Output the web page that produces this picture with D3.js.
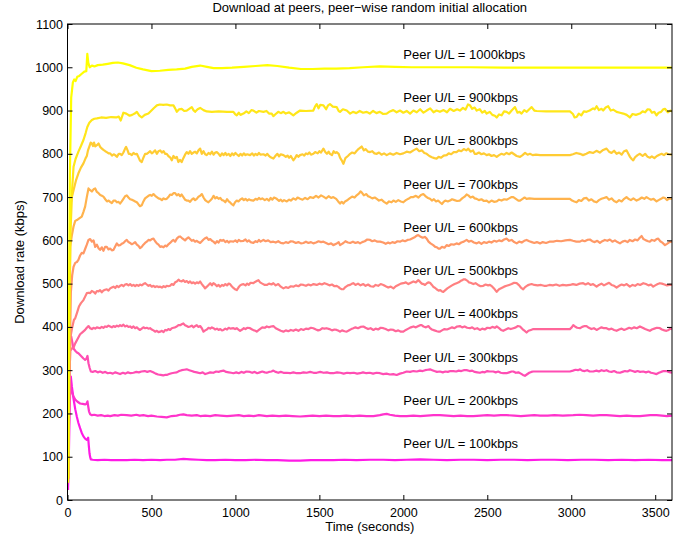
<!DOCTYPE html>
<html>
<head>
<meta charset="utf-8">
<script src="https://cdn.jsdelivr.net/npm/d3@7"></script>
<style>
  body { margin: 0; background: #fff; }
  text { font-family: "Liberation Sans", Arial, sans-serif; fill: #000; }
</style>
</head>
<body>
<div id="chart"></div>
<script>
// upload capacity of each peer class (kbps)
const uploadRates = [100, 200, 300, 400, 500, 600, 700, 800, 900, 1000];
const xTicks = [0, 500, 1000, 1500, 2000, 2500, 3000, 3500];
const yTicks = [0, 100, 200, 300, 400, 500, 600, 700, 800, 900, 1000, 1100];

// [time (s), download rate (kbps)]
const peer100 = [[3,23],[7,80],[11,170],[16,260],[20,285],[26,262],[36,234],[46,210],[56,192],[65,178],[75,166],[85,155],[95,147],[105,142],[115,139],[120,141],[123,144],[127,125],[131,108],[135,99],[139,94],[150,93],[180,92],[220,93],[260,92],[300,92],[353,92],[400,93],[450,92],[500,93],[552,92],[591,93],[640,93],[690,95],[730,94],[780,93],[830,92],[880,92],[940,93],[1000,92],[1060,92],[1120,93],[1187,92],[1250,92],[1320,91],[1385,91],[1450,92],[1520,92],[1583,92],[1650,93],[1720,92],[1800,93],[1880,93],[1950,92],[2020,93],[2100,94],[2180,93],[2260,92],[2340,93],[2420,93],[2500,92],[2580,93],[2660,93],[2740,92],[2820,93],[2900,93],[2980,92],[3060,93],[3140,93],[3220,92],[3300,93],[3380,92],[3460,93],[3540,92],[3600,92]];

const peer200 = [[4,50],[9,230],[14,280],[20,262],[25,250],[35,240],[46,232],[60,227],[75,223],[90,222],[105,221],[112,222],[119,228],[124,215],[128,205],[135,198],[145,196],[160,197],[180,195],[200,196],[220,194],[240,195],[254,194],[280,196],[300,195],[320,197],[353,196],[380,195],[410,197],[430,195],[452,196],[480,194],[500,195],[532,193],[560,192],[591,191],[620,194],[650,195],[670,197],[690,198],[710,196],[740,195],[770,196],[790,194],[820,195],[850,194],[880,196],[910,195],[950,194],[988,195],[1020,196],[1050,194],[1080,195],[1110,194],[1140,196],[1187,194],[1220,195],[1260,194],[1300,195],[1340,194],[1385,193],[1420,194],[1460,195],[1500,194],[1540,195],[1583,194],[1620,194],[1660,195],[1700,194],[1740,195],[1780,194],[1822,194],[1860,196],[1880,198],[1901,199],[1920,197],[1950,195],[1980,194],[2020,194],[2060,195],[2100,194],[2140,195],[2180,196],[2218,196],[2260,195],[2300,194],[2340,195],[2380,194],[2417,194],[2460,195],[2500,196],[2540,195],[2580,196],[2615,196],[2660,195],[2700,194],[2740,195],[2780,196],[2814,195],[2860,195],[2900,196],[2950,195],[3012,196],[3050,197],[3090,196],[3130,195],[3170,196],[3210,196],[3250,195],[3290,194],[3330,195],[3370,194],[3409,194],[3440,195],[3470,196],[3508,196],[3540,195],[3570,194],[3600,195]];

const peer300 = [[4,60],[9,300],[14,370],[22,378],[30,362],[36,350],[46,345],[56,341],[65,339],[75,335],[85,331],[95,327],[105,324],[112,326],[119,333],[125,316],[132,305],[139,297],[150,296],[165,298],[180,295],[194,297],[210,294],[225,296],[240,293],[254,294],[270,292],[285,295],[300,293],[313,291],[330,294],[345,292],[360,295],[375,293],[393,294],[410,296],[425,295],[440,297],[460,298],[475,296],[492,298],[510,295],[525,292],[540,290],[555,289],[570,288],[580,289],[591,289],[605,291],[620,293],[635,294],[651,295],[665,298],[680,300],[695,301],[710,302],[725,300],[740,298],[755,296],[770,295],[790,293],[805,295],[820,291],[835,293],[850,295],[869,294],[885,297],[900,296],[915,298],[929,299],[945,296],[960,295],[975,294],[988,293],[1005,295],[1020,293],[1035,296],[1050,294],[1065,297],[1087,296],[1100,294],[1115,296],[1130,293],[1145,295],[1160,297],[1175,295],[1187,294],[1200,296],[1215,297],[1226,299],[1240,296],[1255,294],[1270,296],[1286,294],[1306,294],[1325,293],[1345,295],[1365,293],[1385,293],[1405,295],[1425,294],[1445,296],[1465,294],[1484,294],[1505,296],[1525,294],[1545,295],[1565,293],[1583,293],[1605,295],[1625,294],[1645,292],[1665,294],[1683,293],[1705,294],[1725,292],[1742,293],[1760,295],[1780,293],[1800,294],[1820,292],[1840,294],[1861,293],[1880,291],[1900,292],[1920,290],[1940,291],[1960,289],[1980,292],[2000,294],[2020,297],[2040,296],[2060,298],[2080,297],[2099,299],[2115,298],[2130,300],[2145,301],[2159,302],[2172,300],[2185,298],[2200,296],[2218,297],[2235,295],[2250,297],[2265,296],[2280,298],[2298,298],[2315,297],[2330,299],[2345,298],[2360,300],[2377,300],[2395,298],[2410,299],[2425,296],[2440,295],[2456,294],[2470,296],[2485,295],[2500,298],[2515,297],[2536,297],[2550,295],[2565,297],[2580,294],[2595,293],[2615,293],[2630,295],[2645,297],[2655,297],[2670,294],[2685,295],[2700,292],[2712,289],[2724,287],[2735,290],[2750,294],[2762,296],[2774,297],[2850,297],[2920,297],[2992,297],[3010,299],[3025,301],[3040,300],[3052,302],[3065,299],[3080,298],[3095,300],[3110,297],[3131,297],[3150,299],[3165,297],[3180,300],[3195,298],[3210,300],[3225,297],[3240,296],[3255,298],[3270,295],[3290,294],[3305,296],[3320,298],[3335,297],[3349,300],[3365,298],[3380,296],[3395,298],[3410,296],[3429,297],[3445,295],[3460,297],[3475,294],[3490,293],[3508,291],[3522,294],[3535,296],[3550,298],[3567,298],[3580,296],[3590,295],[3600,294]];

const peer400 = [[4,40],[10,250],[16,345],[26,350],[36,352],[46,362],[60,372],[75,383],[90,388],[105,393],[115,398],[125,402],[135,397],[145,395],[155,398],[165,396],[175,399],[194,397],[204,400],[214,398],[224,401],[234,400],[244,403],[254,401],[264,399],[274,402],[284,400],[294,403],[304,401],[313,404],[323,402],[333,405],[343,401],[353,403],[363,400],[373,401],[383,398],[393,401],[403,397],[413,399],[423,395],[432,393],[442,396],[452,399],[462,397],[472,398],[482,396],[492,397],[502,394],[512,392],[522,389],[532,391],[542,388],[552,389],[562,391],[572,388],[582,393],[591,392],[601,395],[611,393],[621,397],[631,398],[641,399],[651,401],[661,404],[671,404],[680,406],[690,408],[700,404],[710,402],[720,400],[730,401],[740,403],[750,399],[760,402],[770,404],[780,400],[790,402],[800,397],[810,389],[820,392],[830,394],[840,398],[850,396],[860,399],[869,397],[880,394],[890,396],[900,393],[910,395],[920,392],[929,393],[940,396],[950,394],[960,398],[970,396],[988,397],[998,395],[1008,397],[1018,394],[1028,391],[1040,394],[1050,397],[1060,395],[1070,398],[1087,397],[1100,394],[1110,392],[1120,391],[1127,389],[1140,393],[1150,396],[1160,399],[1175,398],[1187,401],[1200,399],[1212,401],[1226,402],[1240,397],[1255,394],[1270,391],[1286,389],[1300,392],[1315,390],[1330,393],[1345,391],[1360,394],[1375,391],[1390,395],[1405,393],[1420,396],[1435,395],[1450,398],[1464,397],[1480,394],[1492,392],[1504,393],[1518,397],[1530,396],[1543,397],[1560,395],[1575,392],[1590,394],[1603,393],[1615,391],[1623,389],[1635,392],[1650,390],[1663,389],[1680,393],[1695,396],[1702,397],[1715,399],[1730,397],[1745,400],[1762,401],[1775,398],[1790,395],[1805,397],[1822,393],[1835,396],[1850,394],[1865,398],[1881,397],[1895,395],[1910,392],[1925,394],[1941,393],[1955,390],[1970,392],[1985,389],[2000,389],[2015,393],[2030,396],[2045,399],[2060,401],[2075,399],[2090,402],[2100,404],[2109,404],[2120,401],[2135,399],[2150,402],[2159,397],[2170,394],[2185,392],[2200,390],[2210,389],[2218,389],[2230,392],[2245,395],[2260,394],[2278,397],[2290,399],[2305,397],[2320,401],[2337,402],[2350,399],[2365,401],[2380,398],[2397,397],[2410,399],[2425,395],[2440,397],[2456,393],[2470,396],[2485,394],[2500,398],[2516,397],[2530,400],[2545,398],[2556,401],[2570,397],[2582,393],[2595,391],[2610,394],[2625,397],[2640,395],[2655,397],[2670,399],[2682,402],[2695,401],[2705,397],[2715,393],[2725,390],[2734,387],[2745,391],[2760,393],[2774,395],[2850,395],[2920,395],[2992,395],[3003,399],[3012,404],[3022,401],[3035,398],[3052,397],[3065,400],[3080,402],[3091,402],[3105,398],[3120,395],[3135,397],[3151,393],[3165,396],[3180,399],[3195,397],[3210,397],[3225,394],[3240,396],[3255,393],[3270,391],[3285,394],[3300,396],[3315,393],[3329,395],[3345,398],[3360,396],[3375,399],[3390,397],[3409,401],[3425,398],[3440,395],[3455,393],[3468,391],[3480,394],[3495,396],[3510,398],[3528,397],[3540,394],[3555,392],[3567,391],[3580,393],[3590,396],[3600,395]];

const peer500 = [[5,60],[12,280],[18,377],[26,395],[38,416],[46,420],[56,432],[68,447],[80,455],[95,462],[105,470],[115,478],[127,479],[135,478],[145,483],[155,481],[165,477],[175,483],[185,482],[194,485],[204,480],[214,484],[224,486],[234,487],[244,484],[254,489],[264,491],[274,493],[284,490],[294,495],[304,492],[313,495],[323,497],[333,494],[343,498],[353,499],[363,496],[373,499],[383,495],[393,497],[403,494],[413,497],[423,495],[432,498],[442,496],[452,499],[462,501],[472,498],[482,495],[492,497],[502,493],[512,495],[522,492],[532,494],[542,492],[552,493],[562,491],[572,494],[582,492],[591,495],[601,494],[611,495],[621,499],[631,497],[641,503],[651,505],[661,509],[671,506],[680,505],[690,508],[700,504],[710,506],[720,502],[730,505],[740,501],[750,503],[760,500],[770,503],[780,501],[790,505],[800,499],[810,494],[819,489],[830,493],[840,497],[850,501],[860,496],[869,501],[880,498],[890,494],[900,497],[909,493],[920,497],[930,495],[940,499],[950,496],[960,500],[968,499],[978,494],[988,490],[998,487],[1008,485],[1018,491],[1028,496],[1038,498],[1048,499],[1060,496],[1070,500],[1080,497],[1090,502],[1107,501],[1117,504],[1127,506],[1137,508],[1147,503],[1160,500],[1175,497],[1187,497],[1200,500],[1215,498],[1226,501],[1240,496],[1255,499],[1270,493],[1286,489],[1300,492],[1315,490],[1330,494],[1345,493],[1360,496],[1375,494],[1390,498],[1405,497],[1420,495],[1435,498],[1450,496],[1465,499],[1484,497],[1500,500],[1515,498],[1530,501],[1543,499],[1560,496],[1575,498],[1590,494],[1603,495],[1615,492],[1623,489],[1633,487],[1643,487],[1655,492],[1670,496],[1683,497],[1695,500],[1702,501],[1715,497],[1730,500],[1745,496],[1762,499],[1775,495],[1790,498],[1805,494],[1822,493],[1835,497],[1850,495],[1865,499],[1881,497],[1895,494],[1910,491],[1925,493],[1941,489],[1955,494],[1970,497],[1985,500],[2000,501],[2015,503],[2030,499],[2045,502],[2060,505],[2075,503],[2089,508],[2100,504],[2110,500],[2120,499],[2129,497],[2140,501],[2150,503],[2159,502],[2170,497],[2180,492],[2190,490],[2198,487],[2210,484],[2220,485],[2230,482],[2238,481],[2250,485],[2262,489],[2278,493],[2290,496],[2305,499],[2317,501],[2330,503],[2340,506],[2350,508],[2360,510],[2367,510],[2380,507],[2390,503],[2400,502],[2417,499],[2430,501],[2445,497],[2460,494],[2476,495],[2490,498],[2505,496],[2516,497],[2530,493],[2540,489],[2550,484],[2556,481],[2570,487],[2585,490],[2600,493],[2615,495],[2630,497],[2645,499],[2660,502],[2675,501],[2690,496],[2700,491],[2714,487],[2725,492],[2740,496],[2752,498],[2764,499],[2780,497],[2800,496],[2820,497],[2838,495],[2853,495],[2870,497],[2890,496],[2910,498],[2930,495],[2950,497],[2970,496],[2992,497],[3010,499],[3030,497],[3050,500],[3071,501],[3085,498],[3100,501],[3115,497],[3130,499],[3151,493],[3165,497],[3180,500],[3195,496],[3210,499],[3225,502],[3240,497],[3255,495],[3270,491],[3285,495],[3300,498],[3315,496],[3330,499],[3349,493],[3365,497],[3380,495],[3395,499],[3410,497],[3429,501],[3445,499],[3460,496],[3475,498],[3488,493],[3500,496],[3515,499],[3528,501],[3540,500],[3555,498],[3570,496],[3585,497],[3600,497]];

const peer600 = [[5,50],[12,300],[20,480],[28,520],[36,539],[46,548],[56,550],[65,555],[75,565],[85,571],[95,570],[105,580],[115,590],[125,601],[135,603],[145,597],[155,600],[165,585],[175,590],[185,582],[194,578],[204,584],[214,576],[224,585],[234,585],[244,579],[254,581],[264,577],[274,578],[284,586],[294,593],[304,588],[313,589],[323,592],[333,594],[343,598],[353,601],[363,596],[373,594],[383,591],[393,593],[403,596],[413,590],[423,587],[432,582],[442,585],[452,590],[462,594],[472,597],[482,601],[492,600],[502,603],[512,604],[522,598],[532,593],[542,590],[552,585],[562,586],[572,584],[582,588],[591,586],[601,591],[611,594],[621,598],[631,601],[641,597],[651,604],[661,608],[671,609],[680,606],[690,603],[700,600],[710,604],[720,607],[730,603],[740,599],[750,601],[760,597],[770,599],[780,596],[790,594],[800,598],[810,602],[820,605],[829,607],[840,601],[850,603],[860,599],[869,597],[880,593],[890,598],[900,595],[910,601],[920,599],[929,601],[940,596],[950,599],[960,595],[970,598],[988,597],[1000,600],[1010,596],[1020,601],[1030,598],[1048,599],[1060,602],[1070,597],[1080,600],[1090,596],[1107,594],[1120,598],[1130,596],[1140,601],[1150,597],[1167,601],[1180,598],[1195,600],[1210,596],[1226,597],[1240,595],[1255,598],[1270,594],[1286,593],[1300,596],[1315,594],[1330,598],[1345,597],[1360,594],[1375,596],[1390,593],[1405,594],[1420,597],[1435,594],[1450,596],[1464,593],[1480,595],[1495,598],[1510,596],[1524,597],[1540,594],[1555,591],[1570,593],[1583,589],[1600,592],[1615,596],[1623,589],[1635,592],[1643,594],[1655,598],[1670,595],[1683,594],[1700,597],[1715,594],[1730,596],[1742,593],[1755,596],[1770,598],[1785,602],[1802,601],[1815,598],[1830,600],[1845,597],[1862,597],[1880,595],[1895,592],[1910,595],[1921,593],[1935,596],[1950,594],[1965,598],[1980,597],[1995,600],[2010,598],[2025,601],[2040,602],[2055,605],[2070,608],[2080,611],[2089,612],[2100,609],[2115,606],[2128,608],[2139,604],[2150,597],[2162,593],[2178,589],[2190,585],[2200,584],[2210,581],[2218,581],[2230,585],[2245,583],[2258,589],[2270,587],[2285,591],[2300,590],[2317,593],[2330,591],[2345,595],[2360,597],[2377,601],[2390,597],[2405,599],[2420,595],[2437,593],[2450,596],[2465,592],[2480,596],[2496,594],[2510,597],[2525,595],[2540,599],[2556,597],[2570,600],[2585,598],[2600,602],[2615,604],[2630,599],[2645,601],[2660,596],[2675,593],[2690,597],[2705,595],[2720,599],[2734,601],[2750,598],[2765,596],[2780,594],[2795,596],[2814,593],[2830,596],[2850,594],[2870,597],[2893,597],[2915,599],[2940,598],[2965,600],[2992,601],[3010,599],[3030,597],[3052,597],[3065,600],[3080,598],[3095,601],[3111,602],[3125,598],[3140,596],[3155,599],[3171,594],[3185,598],[3200,601],[3215,599],[3230,602],[3245,597],[3260,600],[3275,596],[3290,593],[3305,597],[3320,599],[3335,596],[3349,601],[3365,598],[3380,602],[3395,600],[3408,606],[3419,610],[3430,603],[3445,600],[3458,598],[3468,597],[3480,601],[3495,599],[3508,603],[3518,604],[3530,598],[3545,594],[3558,589],[3570,592],[3585,596],[3600,597]];

const peer700 = [[4,50],[10,350],[16,585],[26,612],[36,632],[46,645],[56,647],[70,651],[85,655],[95,666],[105,678],[115,700],[125,720],[135,716],[145,713],[155,718],[165,720],[175,712],[185,709],[195,705],[205,703],[214,701],[225,695],[235,690],[245,692],[254,689],[264,686],[274,692],[284,692],[294,688],[304,689],[313,685],[323,690],[333,696],[343,702],[353,704],[363,699],[373,695],[383,694],[393,692],[403,690],[413,688],[423,683],[432,679],[442,681],[452,690],[462,697],[472,700],[482,703],[492,705],[502,703],[512,707],[522,703],[532,700],[542,697],[552,696],[562,693],[572,697],[582,695],[591,696],[601,700],[611,706],[621,705],[631,709],[641,709],[651,704],[661,707],[671,702],[680,706],[690,700],[700,694],[710,692],[720,692],[730,689],[740,694],[750,697],[760,693],[770,696],[780,701],[790,703],[800,707],[810,699],[820,693],[830,690],[839,688],[850,692],[860,696],[870,703],[880,697],[889,700],[900,696],[910,698],[920,693],[929,692],[940,688],[950,695],[960,690],[970,687],[980,683],[988,681],[998,688],[1008,692],[1018,690],[1028,694],[1040,697],[1050,693],[1060,696],[1070,692],[1080,695],[1090,693],[1107,692],[1120,696],[1130,694],[1140,698],[1150,695],[1160,697],[1175,693],[1187,696],[1200,692],[1210,698],[1220,694],[1230,699],[1246,696],[1260,691],[1270,694],[1280,690],[1290,693],[1306,690],[1320,694],[1330,692],[1345,697],[1360,694],[1370,699],[1385,696],[1400,694],[1415,698],[1430,695],[1445,700],[1464,698],[1480,703],[1495,699],[1510,704],[1524,701],[1540,697],[1555,702],[1570,698],[1583,700],[1600,696],[1612,690],[1623,685],[1633,689],[1643,685],[1653,690],[1663,692],[1680,697],[1695,701],[1710,699],[1722,704],[1735,708],[1745,713],[1752,711],[1765,704],[1780,707],[1790,702],[1802,700],[1815,697],[1830,699],[1842,696],[1855,692],[1870,694],[1885,689],[1901,685],[1915,690],[1930,688],[1941,692],[1955,689],[1970,693],[1985,690],[2000,688],[2015,693],[2030,696],[2045,700],[2060,700],[2075,703],[2090,699],[2105,705],[2119,707],[2135,701],[2147,698],[2159,696],[2170,692],[2182,695],[2195,690],[2207,692],[2218,688],[2230,684],[2240,689],[2250,692],[2265,690],[2278,692],[2290,695],[2305,693],[2320,691],[2337,692],[2350,697],[2365,701],[2377,706],[2387,704],[2400,699],[2415,701],[2425,697],[2437,696],[2450,693],[2465,695],[2480,691],[2496,692],[2510,688],[2525,692],[2540,689],[2556,690],[2570,694],[2585,692],[2600,695],[2615,694],[2630,697],[2645,700],[2655,700],[2670,696],[2685,692],[2695,692],[2710,696],[2722,699],[2734,696],[2750,697],[2780,696],[2814,696],[2900,696],[2992,696],[3005,692],[3018,690],[3032,688],[3045,693],[3060,691],[3075,697],[3091,698],[3105,692],[3120,695],[3135,690],[3151,688],[3165,693],[3180,696],[3195,698],[3210,700],[3225,694],[3240,697],[3255,691],[3270,688],[3285,693],[3300,690],[3315,696],[3329,700],[3340,696],[3355,693],[3370,697],[3389,692],[3405,695],[3420,699],[3435,696],[3448,700],[3460,697],[3475,694],[3490,696],[3508,690],[3520,693],[3535,696],[3548,699],[3558,698],[3570,693],[3585,697],[3600,696]];

const peer800 = [[4,50],[10,350],[16,678],[26,700],[36,716],[50,738],[65,755],[80,768],[95,778],[108,790],[115,795],[122,808],[131,818],[138,826],[145,824],[152,818],[158,826],[165,817],[175,820],[185,824],[195,816],[205,812],[214,809],[225,806],[234,804],[245,801],[254,801],[265,796],[275,799],[284,797],[294,793],[305,800],[313,800],[323,797],[333,803],[343,812],[349,816],[358,808],[365,800],[373,800],[383,797],[393,802],[403,799],[413,800],[425,790],[432,784],[442,781],[452,791],[462,800],[472,800],[482,803],[492,806],[502,801],[512,804],[522,808],[532,800],[542,806],[552,808],[562,803],[572,806],[582,800],[591,800],[600,795],[611,792],[621,785],[631,795],[641,790],[651,793],[660,781],[670,786],[680,781],[690,790],[700,798],[710,804],[720,800],[730,806],[740,800],[750,803],[760,805],[770,801],[780,808],[790,812],[800,800],[810,806],[820,799],[829,797],[840,802],[850,799],[860,805],[870,798],[880,803],[889,804],[900,800],[910,795],[920,801],[930,797],[940,802],[948,797],[960,800],[970,795],[980,801],[990,797],[1000,802],[1008,799],[1020,795],[1030,800],[1040,796],[1050,801],[1060,797],[1070,799],[1087,797],[1100,801],[1110,796],[1120,800],[1130,797],[1140,802],[1150,798],[1167,799],[1180,796],[1190,800],[1200,795],[1210,792],[1226,789],[1240,796],[1250,800],[1260,794],[1270,799],[1286,797],[1300,793],[1310,796],[1320,791],[1330,795],[1345,785],[1355,790],[1365,797],[1375,793],[1385,797],[1400,799],[1410,796],[1420,801],[1430,799],[1440,803],[1450,798],[1464,800],[1475,804],[1490,801],[1500,806],[1510,803],[1524,812],[1535,804],[1545,800],[1555,805],[1563,800],[1575,797],[1585,806],[1595,802],[1603,804],[1615,800],[1623,791],[1633,785],[1643,777],[1655,790],[1670,795],[1683,800],[1695,803],[1710,801],[1720,806],[1730,810],[1740,813],[1752,817],[1765,808],[1775,811],[1790,805],[1802,804],[1815,806],[1828,801],[1842,800],[1855,803],[1870,798],[1885,801],[1901,797],[1920,801],[1940,798],[1960,802],[1980,799],[2000,801],[2020,805],[2040,803],[2060,808],[2079,812],[2095,806],[2110,808],[2125,802],[2139,800],[2155,795],[2170,792],[2185,790],[2198,789],[2210,793],[2225,791],[2240,796],[2258,797],[2270,801],[2285,799],[2300,804],[2317,804],[2330,808],[2345,806],[2360,811],[2375,808],[2387,812],[2400,805],[2415,808],[2425,800],[2437,800],[2450,803],[2465,799],[2480,801],[2496,797],[2510,799],[2525,795],[2540,797],[2556,793],[2570,797],[2585,800],[2600,798],[2615,802],[2630,799],[2645,803],[2660,799],[2675,795],[2695,793],[2710,797],[2725,802],[2740,798],[2754,800],[2770,797],[2790,798],[2814,797],[2900,797],[2992,797],[3010,799],[3030,802],[3052,800],[3070,797],[3090,800],[3110,804],[3131,802],[3150,807],[3170,803],[3190,809],[3210,812],[3225,805],[3240,802],[3255,807],[3270,800],[3285,803],[3300,798],[3315,806],[3329,808],[3340,800],[3350,793],[3360,788],[3369,785],[3380,792],[3395,797],[3409,800],[3425,795],[3440,800],[3455,793],[3468,791],[3480,794],[3495,790],[3510,795],[3525,798],[3538,800],[3552,797],[3565,801],[3580,799],[3600,798]];

const peer900 = [[4,50],[10,400],[18,620],[28,720],[36,770],[48,788],[65,805],[80,818],[95,832],[108,848],[118,862],[130,872],[145,878],[160,881],[175,882],[200,884],[230,883],[260,885],[290,884],[305,886],[317,877],[333,895],[350,893],[370,888],[385,890],[400,893],[413,897],[428,888],[442,884],[460,890],[482,893],[500,900],[515,906],[532,912],[550,914],[570,913],[591,914],[610,912],[631,912],[641,905],[651,897],[665,903],[680,904],[695,899],[710,900],[725,904],[740,908],[750,901],[760,897],[775,903],[790,906],[810,901],[829,898],[860,897],[900,898],[950,897],[988,897],[998,892],[1008,889],[1020,895],[1030,890],[1048,893],[1065,898],[1080,894],[1095,901],[1107,900],[1125,895],[1140,899],[1167,897],[1185,899],[1200,893],[1216,893],[1226,887],[1240,892],[1255,897],[1270,894],[1286,897],[1300,893],[1320,896],[1345,889],[1365,895],[1385,900],[1420,899],[1464,900],[1474,909],[1484,915],[1495,905],[1505,913],[1524,912],[1540,903],[1552,912],[1563,915],[1580,909],[1603,908],[1615,899],[1623,897],[1640,903],[1663,900],[1683,893],[1700,897],[1720,894],[1740,899],[1760,895],[1782,897],[1800,893],[1820,899],[1840,894],[1860,897],[1880,892],[1901,893],[1920,898],[1940,901],[1960,896],[1980,900],[2000,895],[2020,899],[2040,893],[2060,900],[2080,896],[2100,903],[2120,895],[2139,900],[2160,905],[2180,896],[2198,900],[2218,897],[2240,901],[2260,896],[2278,904],[2300,899],[2320,903],[2337,900],[2355,906],[2370,902],[2385,914],[2397,912],[2410,904],[2425,907],[2437,900],[2455,903],[2470,895],[2485,899],[2496,893],[2515,897],[2530,890],[2545,888],[2556,884],[2570,891],[2585,889],[2600,898],[2615,897],[2630,893],[2645,900],[2655,904],[2665,908],[2680,895],[2692,897],[2704,893],[2720,901],[2735,897],[2750,903],[2764,908],[2780,900],[2794,899],[2850,898],[2900,898],[2950,898],[2992,898],[3010,892],[3020,884],[3032,885],[3045,893],[3060,889],[3075,898],[3091,897],[3110,900],[3130,905],[3140,903],[3151,910],[3165,901],[3180,904],[3190,900],[3205,907],[3220,910],[3235,900],[3250,902],[3270,897],[3290,895],[3310,893],[3330,890],[3349,884],[3365,892],[3385,890],[3409,893],[3425,898],[3440,896],[3455,903],[3468,902],[3480,895],[3495,897],[3508,889],[3520,895],[3535,897],[3548,903],[3558,904],[3575,896],[3590,900],[3600,898]];

const peer1000 = [[3,40],[8,400],[14,750],[22,930],[32,965],[40,972],[48,968],[58,978],[70,980],[85,985],[100,990],[112,991],[118,1031],[124,1010],[132,1000],[145,1004],[160,1002],[180,1005],[210,1006],[240,1008],[270,1010],[300,1011],[330,1009],[370,1005],[410,999],[450,995],[500,991],[550,992],[600,994],[650,995],[700,997],[740,1001],[790,1004],[830,1001],[870,998],[920,998],[980,999],[1050,1001],[1120,1003],[1190,1005],[1250,1003],[1320,999],[1390,996],[1460,996],[1530,997],[1600,997],[1680,998],[1760,1000],[1860,1002],[1950,1001],[2050,1000],[2200,1000],[2400,1000],[2600,999],[2800,999],[3000,999],[3200,999],[3400,999],[3600,999]];

const seriesData = [peer100, peer200, peer300, peer400, peer500, peer600, peer700, peer800, peer900, peer1000];

const W = 692, H = 539;
const svg = d3.select('#chart').append('svg')
  .attr('width', W)
  .attr('height', H);

let x = d3.scaleLinear().domain([0, 3600]).range([67.5, 672]);
let y = d3.scaleLinear().domain([0, 1100]).range([500, 24]);

// MATLAB "spring" style colours, magenta -> yellow
function lineColor(i) {
  let k = (i + 1) / uploadRates.length;
  return d3.rgb(255, Math.round(255 * k), Math.round(255 * (1 - k))).formatHex();
}

svg.append('clipPath').attr('id', 'plotArea')
  .append('rect')
  .attr('x', x(0)).attr('y', y(1100))
  .attr('width', x(3600) - x(0)).attr('height', y(0) - y(1100));

let line = d3.line()
  .x(function (d) { return x(d[0]); })
  .y(function (d) { return y(d[1]); });

svg.append('g')
  .attr('clip-path', 'url(#plotArea)')
  .selectAll('path')
  .data(seriesData)
  .enter().append('path')
  .attr('d', line)
  .attr('fill', 'none')
  .attr('stroke', function (d, i) { return lineColor(i); })
  .attr('stroke-width', 2.2)
  .attr('stroke-linejoin', 'round');

// curve labels
svg.append('g').selectAll('text')
  .data(uploadRates)
  .enter().append('text')
  .attr('x', x(2000))
  .attr('y', function (d) { return y(d + 30); })
  .attr('dy', '0.35em')
  .style('font-size', '13px')
  .text(function (d) { return 'Peer U/L = ' + d + 'kbps'; });

// axes, ticks pointing inwards like MATLAB
function styleAxis(g) {
  g.selectAll('.domain').remove();
  g.selectAll('.tick line').attr('stroke', '#000');
  g.selectAll('.tick text').style('font-size', '12.5px').attr('fill', '#000');
}

svg.append('g')
  .attr('transform', 'translate(0,' + y(0) + ')')
  .call(d3.axisBottom(x).tickValues(xTicks).tickFormat(d3.format('d'))
    .tickSizeInner(-5).tickSizeOuter(0).tickPadding(8))
  .call(styleAxis);

svg.append('g')
  .attr('transform', 'translate(0,' + y(1100) + ')')
  .call(d3.axisTop(x).tickValues(xTicks).tickSizeInner(-5).tickSizeOuter(0).tickFormat(''))
  .call(styleAxis);

svg.append('g')
  .attr('transform', 'translate(' + x(0) + ',0)')
  .call(d3.axisLeft(y).tickValues(yTicks).tickFormat(d3.format('d'))
    .tickSizeInner(-5).tickSizeOuter(0).tickPadding(4.5))
  .call(styleAxis);

svg.append('g')
  .attr('transform', 'translate(' + x(3600) + ',0)')
  .call(d3.axisRight(y).tickValues(yTicks).tickSizeInner(-5).tickSizeOuter(0).tickFormat(''))
  .call(styleAxis);

svg.append('rect')
  .attr('x', x(0)).attr('y', y(1100))
  .attr('width', x(3600) - x(0)).attr('height', y(0) - y(1100))
  .attr('fill', 'none')
  .attr('stroke', '#000')
  .attr('stroke-width', 1);

// titles
svg.append('text')
  .attr('x', (x(0) + x(3600)) / 2)
  .attr('y', 12)
  .attr('text-anchor', 'middle')
  .style('font-size', '13px')
  .text('Download at peers, peer\u2212wise random initial allocation');

svg.append('text')
  .attr('x', (x(0) + x(3600)) / 2)
  .attr('y', 531)
  .attr('text-anchor', 'middle')
  .style('font-size', '13px')
  .text('Time (seconds)');

svg.append('text')
  .attr('transform', 'translate(24,' + (y(0) + y(1100)) / 2 + ') rotate(-90)')
  .attr('text-anchor', 'middle')
  .style('font-size', '13px')
  .text('Download rate (kbps)');
</script>
</body>
</html>
